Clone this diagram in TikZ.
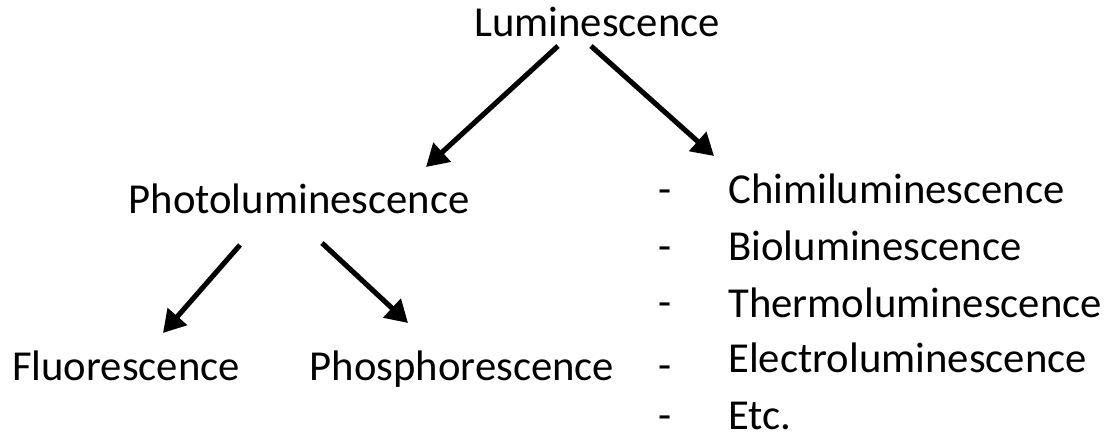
\documentclass[tikz,border=0pt]{standalone}
\usepackage{fontspec}
\setmainfont{Carlito}
\usepackage{tikz}
\usetikzlibrary{positioning}
\usetikzlibrary{arrows.meta}

\tikzset{
    term/.style={font=\fontsize{24.3pt}{29pt}\selectfont, inner sep=0pt, anchor=base},
    item/.style={term, anchor=base west},
    dashmark/.style={term},
    branch/.style={-{Triangle[length=0.44cm,width=0.5cm]}, line width=2.9pt}
}

\begin{document}
\begin{tikzpicture}[x=0.02cm, y=-0.02cm]
    \useasboundingbox (0,0) rectangle (1114,437);

    \node [term] (lum) at (597,36) {Luminescence};
    \node [term] (photo) at (299,213) {Photoluminescence};
    \node [term] (fluo) at (126,380) {Fluorescence};
    \node [term] (phos) at (462,380) {Phosphorescence};

    \node [item] (chim) at (728,203) {Chimiluminescence};
    \node [item] (bio) at (728,260) {Bioluminescence};
    \node [item] (thermo) at (728,317) {Thermoluminescence};
    \node [item] (electro) at (728,372) {Electroluminescence};
    \node [item] (etc) at (728,429) {Etc.};

    \node [dashmark] (d1) at (665,203) {-};
    \node [dashmark] (d2) at (665,260) {-};
    \node [dashmark] (d3) at (665,316) {-};
    \node [dashmark] (d4) at (665,379) {-};
    \node [dashmark] (d5) at (665,429) {-};

    % arrow ends
    \coordinate (lumL) at (558,46);
    \coordinate (lumR) at (591,46);
    \coordinate (photoIn) at (426,167);
    \coordinate (listIn) at (714,156);
    \coordinate (photoL) at (240,245);
    \coordinate (photoR) at (322,243);
    \coordinate (fluoIn) at (163,333);
    \coordinate (phosIn) at (408,323);

    \draw [branch] (lumL) -- (photoIn);
    \draw [branch] (lumR) -- (listIn);
    \draw [branch] (photoL) -- (fluoIn);
    \draw [branch] (photoR) -- (phosIn);
\end{tikzpicture}
\end{document}
